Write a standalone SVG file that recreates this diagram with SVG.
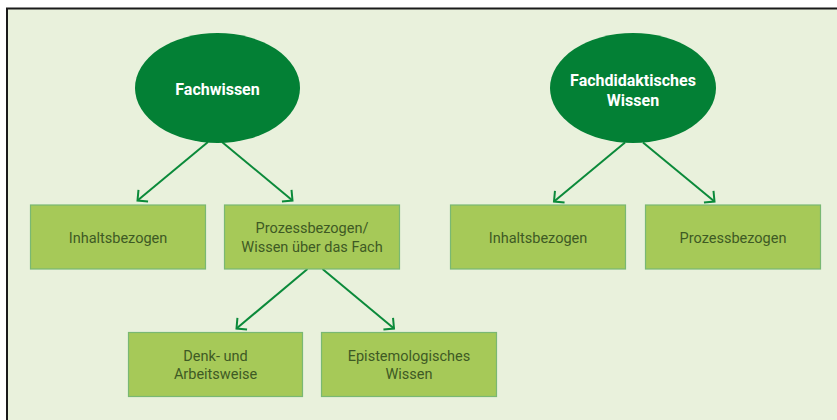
<svg xmlns="http://www.w3.org/2000/svg" width="837" height="420" viewBox="0 0 837 420">
  <style>
    .oval { fill: #038035; }
    .oval-label { font-family: Roboto, "Liberation Sans", sans-serif; font-weight: bold; font-size: 16px; fill: #ffffff; text-anchor: middle; }
    .box { fill: #a6c958; stroke: #79b873; stroke-width: 1.2; }
    .box-label { font-family: Roboto, "Liberation Sans", sans-serif; font-size: 14.5px; fill: #3e5a24; text-anchor: middle; }
    .link { stroke: #0b8a3a; stroke-width: 2; fill: none; marker-end: url(#chevron); }
  </style>
  <defs>
    <marker id="chevron" markerUnits="userSpaceOnUse" markerWidth="20" markerHeight="20" viewBox="-10 -10 20 20" refX="0" refY="0" orient="auto">
      <path d="M -7.5,-7.5 L 0,0 L -7.5,7.5" fill="none" stroke="#0b8a3a" stroke-width="2"/>
    </marker>
  </defs>

  <!-- page and panel -->
  <rect x="0" y="0" width="837" height="420" fill="#ffffff"/>
  <rect x="7" y="9" width="830" height="411" fill="#e9f1dc"/>
  <path d="M 7,420 L 7,8.5 L 837,8.5" fill="none" stroke="#1a1a1a" stroke-width="2"/>

  <!-- connectors -->
  <g id="connectors">
    <line class="link" x1="208" y1="142" x2="137.5" y2="200.5"/>
    <line class="link" x1="222" y1="142" x2="292.5" y2="200.5"/>
    <line class="link" x1="625" y1="142.5" x2="554" y2="201.5"/>
    <line class="link" x1="643" y1="142.5" x2="714.5" y2="201.5"/>
    <line class="link" x1="307.5" y1="269" x2="236.5" y2="328.5"/>
    <line class="link" x1="322.5" y1="269" x2="394" y2="328.5"/>
  </g>

  <!-- top-level ovals -->
  <g id="fachwissen">
    <ellipse class="oval" cx="217.5" cy="88" rx="82.5" ry="55"/>
    <text class="oval-label" x="217.5" y="95">Fachwissen</text>
  </g>
  <g id="fachdidaktisches-wissen">
    <ellipse class="oval" cx="633" cy="88" rx="83" ry="55"/>
    <text class="oval-label" x="633" y="86">Fachdidaktisches</text>
    <text class="oval-label" x="633" y="106">Wissen</text>
  </g>

  <!-- second row -->
  <g id="fw-inhaltsbezogen">
    <rect class="box" x="30.5" y="205" width="175" height="64"/>
    <text class="box-label" x="118" y="243">Inhaltsbezogen</text>
  </g>
  <g id="fw-prozessbezogen">
    <rect class="box" x="224.5" y="205" width="175" height="64"/>
    <text class="box-label" x="312" y="233">Prozessbezogen/</text>
    <text class="box-label" x="312" y="251.5">Wissen über das Fach</text>
  </g>
  <g id="fdw-inhaltsbezogen">
    <rect class="box" x="450.5" y="205" width="175" height="64"/>
    <text class="box-label" x="538" y="243">Inhaltsbezogen</text>
  </g>
  <g id="fdw-prozessbezogen">
    <rect class="box" x="645.5" y="205" width="175" height="64"/>
    <text class="box-label" x="733" y="243">Prozessbezogen</text>
  </g>

  <!-- third row -->
  <g id="denk-arbeitsweise">
    <rect class="box" x="128.5" y="332.5" width="174" height="64"/>
    <text class="box-label" x="215.5" y="360.5">Denk- und</text>
    <text class="box-label" x="215.5" y="379">Arbeitsweise</text>
  </g>
  <g id="epistemologisches-wissen">
    <rect class="box" x="321.5" y="332.5" width="175" height="64"/>
    <text class="box-label" x="409" y="360.5">Epistemologisches</text>
    <text class="box-label" x="409" y="379">Wissen</text>
  </g>
</svg>
